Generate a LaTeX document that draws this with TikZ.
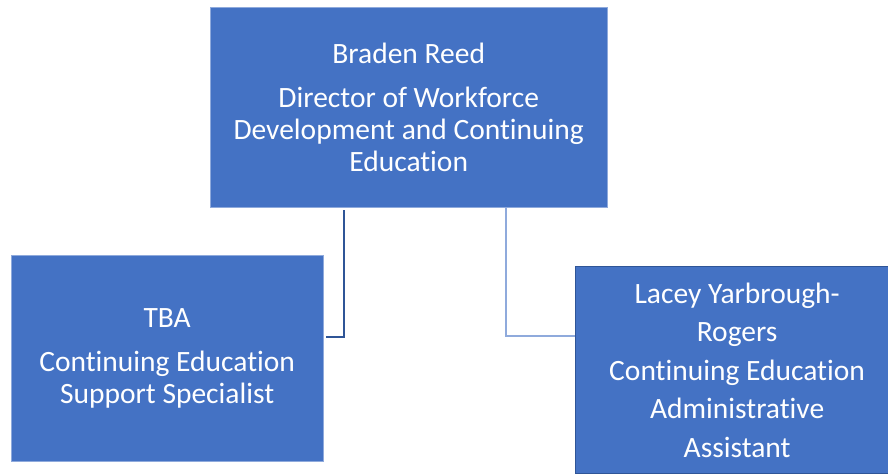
\documentclass[tikz,border=0pt]{standalone}
\usepackage{fontspec}
\setmainfont{Carlito}[Ligatures=NoCommon]
\definecolor{boxblue}{HTML}{4472C4}
\definecolor{lightedge}{HTML}{8FAADC}
\definecolor{darkedge}{HTML}{2F5597}

\begin{document}
\begin{tikzpicture}[x=1pt,y=-1pt]
	\tikzstyle{box} = [rectangle, draw=lightedge, fill=boxblue, text=white, align=center, anchor=north west, inner sep=0pt, font=\fontsize{29.5}{32}\selectfont];
	\useasboundingbox (0,0) rectangle (888,475);
	\node (director) [box, minimum width=397pt, minimum height=200pt] at (210,7) {Braden Reed\\[12pt]Director of Workforce\\Development and Continuing\\Education};
	\node (tba) [box, minimum width=312pt, minimum height=206pt] at (11,255) {TBA\\[12pt]Continuing Education\\Support Specialist};
	\node (lacey) [box, draw=darkedge, line width=1.2pt, minimum width=323pt, minimum height=207pt, font=\fontsize{29.5}{38.5}\selectfont] at (575,266) {Lacey Yarbrough-\\Rogers\\Continuing Education\\Administrative\\Assistant};
	\draw [darkedge, line width=2pt] ([xshift=-64.5pt, yshift=-3pt]director.south) |- ([xshift=3pt, yshift=21pt]tba.east);
	\draw [lightedge, line width=1.5pt] ([xshift=97.5pt]director.south) |- ([yshift=34pt]lacey.west);
\end{tikzpicture}
\end{document}
